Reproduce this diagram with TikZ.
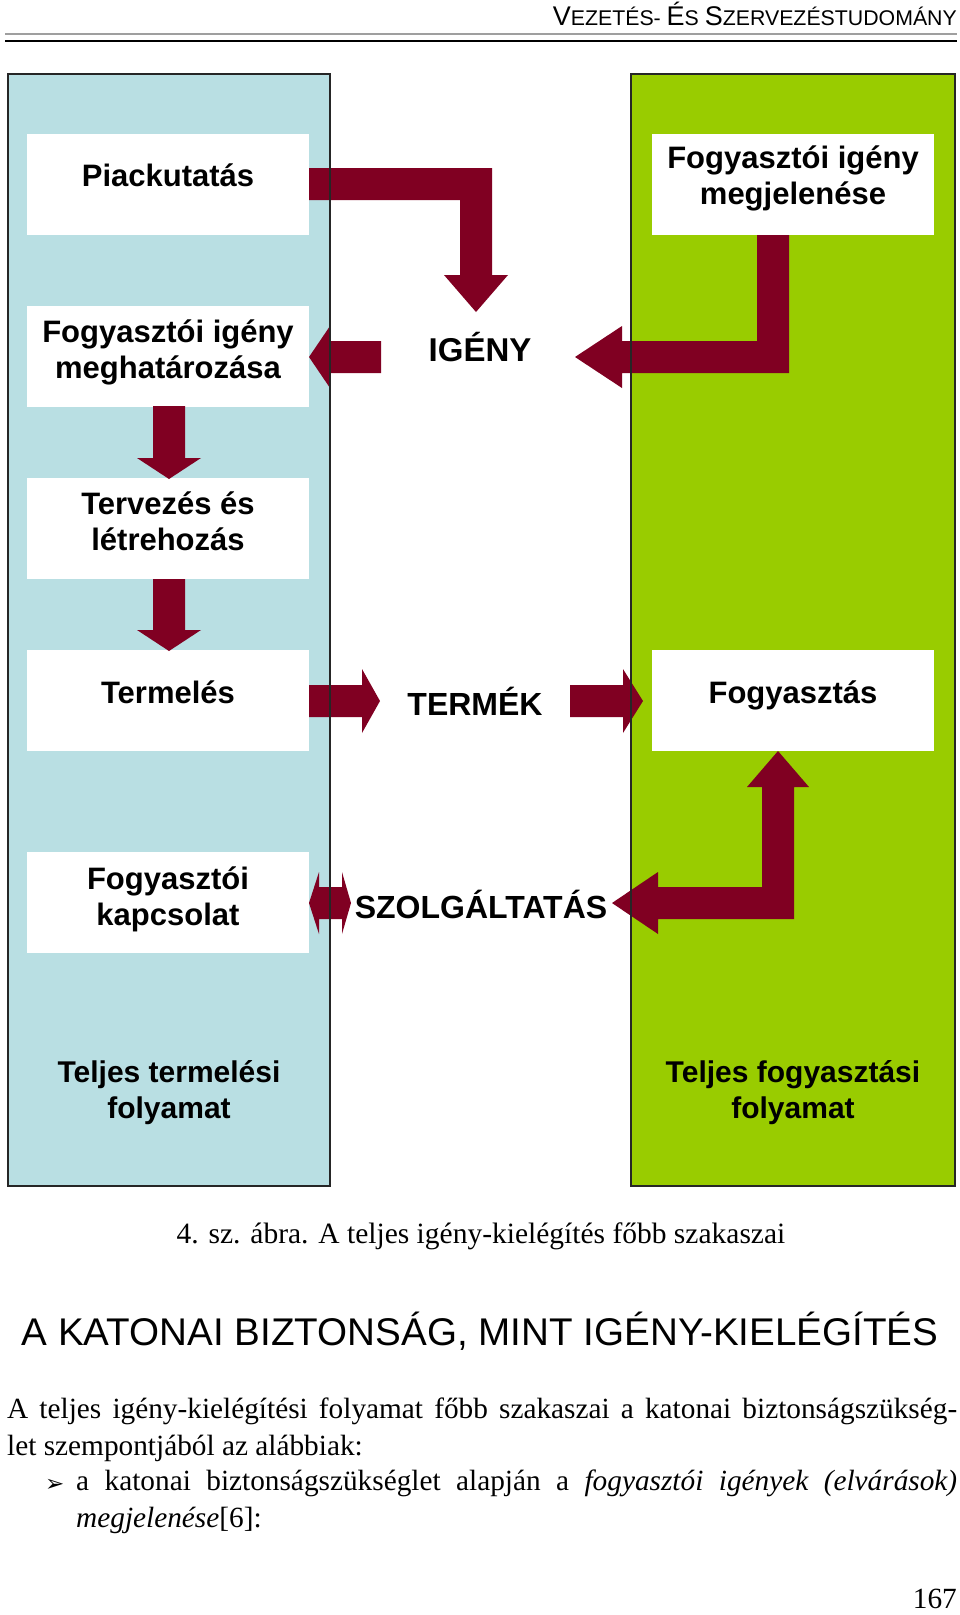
\documentclass[tikz,border=0pt]{standalone}
\usepackage{fontspec}
\setmainfont{Liberation Serif}
\newfontfamily\arialf{Liberation Sans}
\newfontfamily\symf{DejaVu Sans}
\definecolor{panelblue}{RGB}{185,223,227}
\definecolor{panelgreen}{RGB}{153,204,0}
\definecolor{arrowred}{RGB}{128,0,34}
\newcommand\mytwo[2]{\begin{tabular}[t]{@{}c@{}}#1\\#2\end{tabular}}
\newcommand\hdbig[1]{{\fontsize{27}{27}\selectfont #1}}
\tikzset{
 panelfill/.style={minimum height=1112pt, inner sep=0pt},
 panelline/.style={draw=black!85, line width=2pt},
 wbox/.style={fill=white, minimum width=282pt, minimum height=101pt, inner sep=0pt},
 btext/.style={font=\arialf\bfseries\fontsize{31}{36}\selectfont, inner sep=0pt, anchor=base},
 ptext/.style={font=\arialf\bfseries\fontsize{30}{36}\selectfont, inner sep=0pt, anchor=base},
 clabel/.style={font=\arialf\bfseries\fontsize{32}{36}\selectfont, inner sep=0pt, anchor=base},
 blockarrow/.style={fill=arrowred},
 body/.style={font=\fontsize{29.3}{36}\selectfont, inner sep=0pt, anchor=base west},
}
\begin{document}
\begin{tikzpicture}[x=1pt,y=-1pt]
\useasboundingbox (0,0) rectangle (960,1615);
\fill[white] (0,0) rectangle (960,1615);

% header
\node[anchor=base east, inner sep=0pt, font=\arialf\fontsize{21.3}{27}\selectfont] (hdr) at (957,25)
  {\hdbig{V}EZETÉS- \hdbig{É}S \hdbig{S}ZERVEZÉSTUDOMÁNY};
\draw[gray!75, line width=1.2pt] (5,34) -- (957,34);
\draw[black, line width=2.6pt] (5,41) -- (957,41);

% panels
\node[panelfill, fill=panelblue, minimum width=322pt] (lp) at (169,630) {};
\node[panelfill, fill=panelgreen, minimum width=324pt] (rp) at (793,630) {};

% white boxes
\node[wbox] (piac) at (168,184.5) {};
\node[wbox] (megj) at (793,184.5) {};
\node[wbox] (megh) at (168,356) {};
\node[wbox] (terv) at (168,528.5) {};
\node[wbox] (term) at (168,700.5) {};
\node[wbox] (fogy) at (793,700.5) {};
\node[wbox] (kapcs) at (168,902.5) {};

% box texts
\node[btext] (tpiac) at (168,186) {Piackutatás};
\node[btext] (tmegj) at (793,168) {\mytwo{Fogyasztói igény}{megjelenése}};
\node[btext] (tmegh) at (168,342) {\mytwo{Fogyasztói igény}{meghatározása}};
\node[btext] (tterv) at (168,514) {\mytwo{Tervezés és}{létrehozás}};
\node[btext] (tterm) at (168,703) {Termelés};
\node[btext] (tfogy) at (793,703) {Fogyasztás};
\node[btext] (tkapcs) at (168,889) {\mytwo{Fogyasztói}{kapcsolat}};
\node[ptext] (tteljt) at (169,1082) {\mytwo{Teljes termelési}{folyamat}};
\node[ptext] (tteljf) at (793,1082) {\mytwo{Teljes fogyasztási}{folyamat}};

% centre labels
\node[clabel, font=\arialf\bfseries\fontsize{33}{36}\selectfont] (igeny) at (480,361) {IGÉNY};
\node[clabel] (termek) at (475,715) {TERMÉK};
\node[clabel] (szolg) at (481,918) {SZOLGÁLTATÁS};

% block arrows
% Piackutatas -> IGENY
\fill[blockarrow] (309,168) -- (492,168) -- (492,275) -- (508,275) -- (476,312)
  -- (444,275) -- (460,275) -- (460,200) -- (309,200) -- cycle;
% IGENY -> meghatarozasa
\fill[blockarrow] (381,341) -- (330,341) -- (330,326) -- (309,357) -- (330,388)
  -- (330,373) -- (381,373) -- cycle;
% megjelenese -> IGENY
\fill[blockarrow] (757,235) -- (789,235) -- (789,373) -- (622,373) -- (622,388)
  -- (575,357) -- (622,326) -- (622,341) -- (757,341) -- cycle;
% meghatarozasa -> Tervezes
\fill[blockarrow] (153,406) -- (185,406) -- (185,458) -- (201,458) -- (169,479)
  -- (137,458) -- (153,458) -- cycle;
% Tervezes -> Termeles
\fill[blockarrow] (153,579) -- (185,579) -- (185,630) -- (201,630) -- (169,651)
  -- (137,630) -- (153,630) -- cycle;
% Termeles -> TERMEK
\fill[blockarrow] (309,685) -- (362,685) -- (362,669) -- (380,701) -- (362,733)
  -- (362,717) -- (309,717) -- cycle;
% TERMEK -> Fogyasztas
\fill[blockarrow] (570,685) -- (623,685) -- (623,669) -- (643,701) -- (623,733)
  -- (623,717) -- (570,717) -- cycle;
% Fogyasztas <-> SZOLGALTATAS
\fill[blockarrow] (778,751) -- (809,787) -- (794,787) -- (794,919) -- (658,919)
  -- (658,934) -- (612,903) -- (658,872) -- (658,887) -- (762,887) -- (762,787)
  -- (747,787) -- cycle;
% kapcsolat <-> SZOLGALTATAS
\fill[blockarrow] (309,903) -- (319,872) -- (319,887) -- (342,887) -- (342,872)
  -- (351,903) -- (342,934) -- (342,919) -- (319,919) -- (319,934) -- cycle;

% panel outlines on top
\draw[panelline] (lp.north west) rectangle (lp.south east);
\draw[panelline] (rp.north west) rectangle (rp.south east);

% caption and text below
\node[anchor=base, inner sep=0pt, font=\fontsize{29.5}{35}\selectfont] (cap) at (481,1243)
  {4. sz. ábra. A teljes igény-kielégítés főbb szakaszai};
\node[anchor=base, inner sep=0pt, font=\arialf\fontsize{38.6}{44}\selectfont] (head) at (480,1345)
  {A KATONAI BIZTONSÁG, MINT IGÉNY-KIELÉGÍTÉS};
\node[body] (b1) at (7,1418)
  {\makebox[950pt][s]{A teljes igény-kielégítési folyamat főbb szakaszai a katonai biztonságszükség-}};
\node[body] (b2) at (7,1455) {let szempontjából az alábbiak:};
\node[body, font=\symf\fontsize{23}{23}\selectfont] (bul) at (45,1491) {➢};
\node[body] (b3) at (76,1490)
  {\makebox[881pt][s]{a katonai biztonságszükséglet alapján a \textit{fogyasztói igények (elvárások)}}};
\node[body] (b4) at (76,1527) {\textit{megjelenése}[6]:};
\node[anchor=base east, inner sep=0pt, font=\fontsize{29.3}{33}\selectfont] (pg) at (957,1608) {167};
\end{tikzpicture}
\end{document}
